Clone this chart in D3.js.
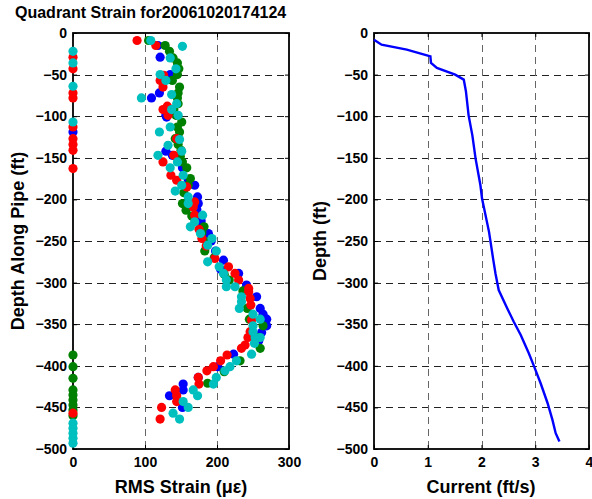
<!DOCTYPE html>
<html>
<head>
<meta charset="utf-8">
<style>
  body { margin: 0; background: #fff; }
  svg { display: block; font-family: 'Liberation Sans', Arial, sans-serif; font-weight: bold; }
  .tick text { font-size: 14px; font-weight: bold; fill: #000; }
  .tick line { stroke: #000; }
</style>
</head>
<body>
<svg width="592" height="499"></svg>
<script src="https://d3js.org/d3.v7.min.js"></script>
<script>
// quadrant strain readings, [depth ft, RMS strain]
const blueQuad = [[-15,118],[-29,121],[-50,135],[-72,120],[-78,109],[-99,129],[-101,130],[-119,0],
  [-142,129],[-147,138],[-155,150],[-162,152],[-176,160],[-183,169],[-197,173],[-205,174],[-212,172],
  [-226,178],[-241,188],[-250,192],[-262,198],[-273,209],[-284,205],[-289,230],[-303,241],[-309,239],
  [-317,255],[-331,260],[-338,264],[-344,269],[-352,269],[-360,262],[-370,258],[-386,223],[-401,201],
  [-414,174],[-422,153],[-429,153],[-436,134],[-450,152]]
const greenQuad = [[-9,105],[-15,128],[-22,134],[-30,139],[-36,145],[-43,147],[-50,145],[-57,138],
  [-65,148],[-72,146],[-78,145],[-85,146],[-92,140],[-99,143],[-107,151],[-113,145],[-119,148],
  [-127,142],[-134,146],[-141,150],[-148,149],[-155,152],[-162,158],[-175,163],[-183,160],[-192,154],
  [-205,152],[-213,157],[-220,165],[-233,182],[-240,179],[-251,186],[-262,183],[-270,196],[-290,210],
  [-297,217],[-310,236],[-331,242],[-344,245],[-352,264],[-366,258],[-379,260],[-387,0],[-394,232],
  [-401,0],[-407,210],[-415,0],[-421,187],[-429,0],[-435,0],[-441,0],[-447,0],[-453,0],[-460,0]]
const redQuad = [[-9,89],[-15,115],[-29,0],[-43,0],[-51,126],[-57,121],[-65,125],[-72,0],[-78,0],
  [-88,131],[-92,125],[-99,132],[-113,0],[-127,0],[-127,144],[-134,0],[-141,0],[-147,140],[-155,125],
  [-163,0],[-171,136],[-177,144],[-185,158],[-203,169],[-209,167],[-219,169],[-236,175],[-247,179],
  [-256,185],[-271,197],[-281,216],[-289,225],[-297,230],[-307,244],[-311,244],[-319,246],[-327,247],
  [-345,248],[-359,246],[-366,243],[-375,239],[-379,234],[-387,214],[-394,205],[-401,195],[-406,186],
  [-414,174],[-422,175],[-429,142],[-436,144],[-443,144],[-450,123],[-457,0],[-464,121]]
const cyanQuad = [[-9,108],[-16,152],[-22,0],[-30,135],[-36,0],[-43,143],[-50,121],[-57,129],[-64,0],
  [-74,137],[-78,95],[-85,144],[-92,137],[-99,146],[-107,0],[-113,135],[-119,120],[-128,148],
  [-135,132],[-142,151],[-147,118],[-155,145],[-162,135],[-171,153],[-183,151],[-190,142],[-197,160],
  [-205,160],[-219,180],[-227,169],[-233,163],[-241,177],[-247,193],[-255,187],[-262,199],[-275,187],
  [-281,203],[-289,209],[-297,213],[-305,225],[-305,213],[-317,234],[-323,234],[-331,231],[-338,250],
  [-344,260],[-352,250],[-359,250],[-366,253],[-366,260],[-373,252],[-386,248],[-394,227],[-401,218],
  [-406,211],[-414,199],[-422,195],[-429,167],[-436,173],[-443,153],[-450,160],[-457,139],[-464,148],
  [-469,0],[-475,0],[-481,0],[-487,0],[-493,0]]

// current profile, [depth ft, current ft/s]
const currentProfile = [[-8,0],[-14,0.14],[-20,0.61],[-28,1.05],[-29,1.05],[-36,1.06],[-42,1.17],
  [-50,1.51],[-56,1.67],[-70,1.71],[-99,1.76],[-123,1.83],[-151,1.89],[-183,1.98],[-199,2.01],
  [-239,2.14],[-273,2.22],[-289,2.26],[-309,2.32],[-331,2.48],[-347,2.6],[-363,2.73],[-385,2.88],
  [-401,2.98],[-421,3.1],[-445,3.23],[-465,3.32],[-481,3.38],[-491,3.45]]

const depthTicks = d3.range(-500, 1, 50)
const strainTicks = [0, 100, 200, 300]
const currentTicks = [0, 1, 2, 3, 4]

const svg = d3.select("svg")
const y = d3.scaleLinear().domain([-500, 0]).range([449, 33])
const xs = d3.scaleLinear().domain([0, 300]).range([73, 289])
const xc = d3.scaleLinear().domain([0, 4]).range([374, 589])

function panel(x, xticks) {
  const g = svg.append("g")
  const [x0, x1] = x.range()
  // grid
  g.selectAll(".hg").data(depthTicks.filter(d => d > -500 && d < 0)).join("line")
    .attr("x1", x0).attr("x2", x1).attr("y1", d => Math.round(y(d)) + 0.5).attr("y2", d => Math.round(y(d)) + 0.5)
    .attr("stroke", "#222").attr("stroke-dasharray", "7,5")
  g.selectAll(".vg").data(xticks.slice(1, -1)).join("line")
    .attr("y1", 33).attr("y2", 449).attr("x1", d => Math.round(x(d)) + 0.5).attr("x2", d => Math.round(x(d)) + 0.5)
    .attr("stroke", "#666").attr("stroke-dasharray", "7,5")

  g.append("g").attr("transform", "translate(" + x0 + ",0)")
    .call(d3.axisLeft(y).tickValues(depthTicks).tickSizeInner(-4).tickSizeOuter(0).tickPadding(6))
    .call(a => a.select(".domain").remove())
  g.append("g").attr("transform", "translate(" + x1 + ",0)")
    .call(d3.axisRight(y).tickValues(depthTicks).tickSizeInner(-4).tickSizeOuter(0).tickFormat(""))
    .call(a => a.select(".domain").remove())
  g.append("g").attr("transform", "translate(0,449)")
    .call(d3.axisBottom(x).tickValues(xticks).tickFormat(d3.format("d")).tickSizeInner(-4).tickSizeOuter(0).tickPadding(8))
    .call(a => a.select(".domain").remove())
  g.append("g").attr("transform", "translate(0,33)")
    .call(d3.axisTop(x).tickValues(xticks).tickSizeInner(-4).tickSizeOuter(0).tickFormat(""))
    .call(a => a.select(".domain").remove())

  g.append("rect").attr("x", x0).attr("y", 33).attr("width", x1 - x0).attr("height", 416)
    .attr("fill", "none").attr("stroke", "#000").attr("stroke-width", 1.8)
  return g
}

const left = panel(xs, strainTicks)
const right = panel(xc, currentTicks)

const series = [
  { data: blueQuad, color: "#0000ff" },
  { data: greenQuad, color: "#008000" },
  { data: redQuad, color: "#ff0000" },
  { data: cyanQuad, color: "#00bfbf" }
]
series.forEach(s => {
  left.append("g").selectAll("circle").data(s.data).join("circle")
    .attr("cx", d => xs(d[1])).attr("cy", d => y(d[0])).attr("r", 4.6).attr("fill", s.color)
})

right.append("path").datum(currentProfile)
  .attr("d", d3.line().x(d => xc(d[1])).y(d => y(d[0])))
  .attr("fill", "none").attr("stroke", "#0000ff").attr("stroke-width", 2.4)

// titles
svg.append("text").attr("x", 15).attr("y", 18).attr("font-size", 16).text("Quadrant Strain for20061020174124")
svg.append("text").attr("x", 181).attr("y", 493).attr("font-size", 18).attr("text-anchor", "middle").text("RMS Strain (\u03bc\u03b5)")
svg.append("text").attr("x", 481).attr("y", 493).attr("font-size", 18).attr("text-anchor", "middle").text("Current (ft/s)")
svg.append("text").attr("transform", "translate(24,241) rotate(-90)").attr("font-size", 18).attr("text-anchor", "middle").text("Depth Along Pipe (ft)")
svg.append("text").attr("transform", "translate(326,241) rotate(-90)").attr("font-size", 18).attr("text-anchor", "middle").text("Depth (ft)")
</script>
</body>
</html>
